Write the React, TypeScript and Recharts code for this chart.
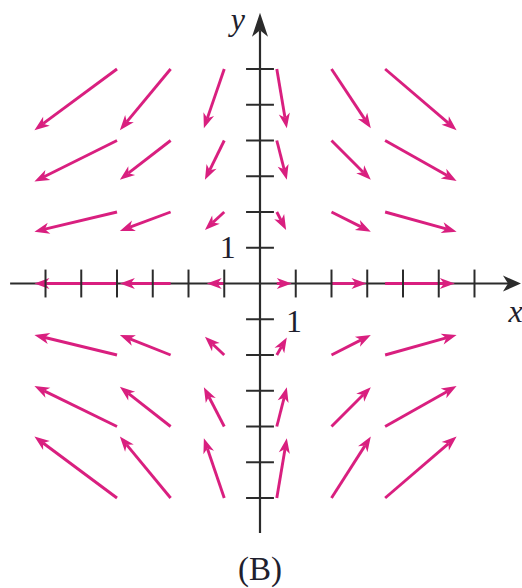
import { ComposedChart, XAxis, YAxis, ReferenceLine, ReferenceDot } from 'recharts';

// grid of field arrows: one row per tail y, columns share tail x
const tailX = [-4.0, -2.5, -1.0, 0.47, 2.0, 3.5];
const tailY = [6, 4, 2, 0, -2, -4, -6];
const headXRows = [
  [-6.31, -3.92, -1.57, 0.75, 3.1, 5.5],
  [-6.31, -3.92, -1.54, 0.75, 3.1, 5.5],
  [-6.31, -3.92, -1.54, 0.73, 3.1, 5.5],
  [-6.31, -3.92, -1.49, 0.89, 2.98, 5.45],
  [-6.31, -3.92, -1.54, 0.75, 3.1, 5.5],
  [-6.31, -3.92, -1.57, 0.75, 3.1, 5.5],
  [-6.31, -3.92, -1.57, 0.75, 3.1, 5.5],
];
const headYRows = [
  [4.29, 4.29, 4.34, 4.34, 4.34, 4.29],
  [2.85, 2.9, 2.9, 2.9, 2.9, 2.87],
  [1.45, 1.47, 1.5, 1.5, 1.45, 1.45],
  [0, 0, 0, 0, 0, 0],
  [-1.44, -1.44, -1.49, -1.51, -1.44, -1.44],
  [-2.87, -2.89, -2.9, -2.9, -2.9, -2.87],
  [-4.28, -4.28, -4.33, -4.33, -4.28, -4.28],
];

const axisTicks = [-6, -5, -4, -3, -2, -1, 1, 2, 3, 4, 5, 6];

const MAGENTA = '#d91f7f';
const INK = '#2b2b2b';
const W = 522;
const H = 588;

function arrowPath(x1: number, y1: number, x2: number, y2: number, headLen: number, half: number) {
  const dx = x2 - x1;
  const dy = y2 - y1;
  const len = Math.hypot(dx, dy) || 1;
  const ux = dx / len;
  const uy = dy / len;
  const bx = x2 - ux * headLen;
  const by = y2 - uy * headLen;
  const nx = x2 - ux * headLen * 0.72;
  const ny = y2 - uy * headLen * 0.72;
  const pts = [
    [x2, y2],
    [bx - uy * half, by + ux * half],
    [nx, ny],
    [bx + uy * half, by - ux * half],
  ];
  return { nx, ny, points: pts.map(p => p.join(',')).join(' ') };
}

function FieldArrow(props: any) {
  const { x1, y1, x2, y2 } = props;
  const a = arrowPath(x1, y1, x2, y2, 15, 5.6);
  return (
    <g>
      <line x1={x1} y1={y1} x2={a.nx} y2={a.ny} stroke={MAGENTA} strokeWidth={2.9} />
      <polygon points={a.points} fill={MAGENTA} />
    </g>
  );
}

function AxisArrow(headLen: number, half: number) {
  return (props: any) => {
    const { x1, y1, x2, y2 } = props;
    const a = arrowPath(x1, y1, x2, y2, headLen, half);
    return (
      <g>
        <line x1={x1} y1={y1} x2={a.nx} y2={a.ny} stroke={INK} strokeWidth={2.2} />
        <polygon points={a.points} fill={INK} />
      </g>
    );
  };
}

function TickLine(props: any) {
  const { x1, y1, x2, y2 } = props;
  return <line x1={x1} y1={y1} x2={x2} y2={y2} stroke={INK} strokeWidth={2} />;
}

function textShape(label: string, size: number, anchor: string, italic: boolean) {
  return (props: any) => (
    <text
      x={props.cx}
      y={props.cy}
      textAnchor={anchor}
      fontFamily="'Liberation Serif', 'DejaVu Serif', serif"
      fontStyle={italic ? 'italic' : 'normal'}
      fontSize={size}
      fill="#1f1f2e"
    >
      {label}
    </text>
  );
}

export default function App() {
  const T = 0.39;
  return (
    <div style={{ position: 'absolute', left: 0, top: 0, width: W, height: H, background: '#fff' }}>
      <ComposedChart width={W} height={H} data={[]} margin={{ top: 0, right: 0, bottom: 0, left: 0 }}>
        <XAxis type="number" dataKey="x" domain={[-7.273, 7.329]} allowDataOverflow hide />
        <YAxis type="number" dataKey="y" domain={[-8.517, 7.93]} allowDataOverflow hide />

        {/* axes */}
        <ReferenceLine segment={[{ x: -6.99, y: 0 }, { x: 7.3, y: 0 }]} shape={AxisArrow(18, 8)} />
        <ReferenceLine segment={[{ x: 0, y: -6.98 }, { x: 0, y: 7.57 }]} shape={AxisArrow(24, 8)} />

        {/* vector field */}
        {tailY.map((ty, r) =>
          tailX.map((tx, c) => (
            <ReferenceLine
              key={`a-${r}-${c}`}
              segment={[{ x: tx, y: ty }, { x: headXRows[r][c], y: headYRows[r][c] }]}
              shape={FieldArrow}
            />
          ))
        )}

        {/* tick marks on top */}
        {axisTicks.map(k => (
          <ReferenceLine key={`tx${k}`} segment={[{ x: k, y: -T }, { x: k, y: T }]} shape={TickLine} />
        ))}
        {axisTicks.map(k => (
          <ReferenceLine key={`ty${k}`} segment={[{ x: -T, y: k }, { x: T, y: k }]} shape={TickLine} />
        ))}

        {/* labels */}
        <ReferenceDot x={-0.42} y={7.1} r={0} shape={textShape('y', 32, 'end', true)} />
        <ReferenceDot x={6.95} y={-1.08} r={0} shape={textShape('x', 32, 'start', true)} />
        <ReferenceDot x={-0.68} y={0.71} r={0} shape={textShape('1', 32, 'end', false)} />
        <ReferenceDot x={0.95} y={-1.36} r={0} shape={textShape('1', 32, 'middle', false)} />
        <ReferenceDot x={0} y={-8.29} r={0} shape={textShape('(B)', 33, 'middle', false)} />
      </ComposedChart>
    </div>
  );
}
